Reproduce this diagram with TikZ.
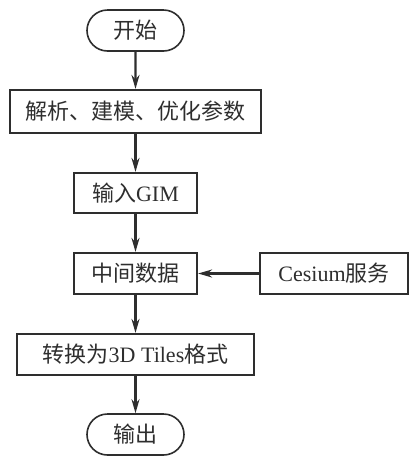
\documentclass[tikz,border=0pt]{standalone}
\usepackage{fontspec}
\setmainfont{Liberation Serif}
\newfontfamily\cjk{Noto Sans CJK SC}
\usetikzlibrary{arrows.meta,shapes.misc}
\definecolor{ink}{HTML}{2E2E2E}
\tikzset{
  box/.style={draw=ink, line width=2.2pt, rectangle, inner sep=0pt, text=ink, font=\fontsize{22}{26}\selectfont},
  term/.style={draw=ink, line width=1.6pt, rounded rectangle, inner sep=0pt, text=ink, minimum width=97pt, minimum height=41pt, font=\fontsize{22}{26}\selectfont},
  flow/.style={draw=ink, line width=2.2pt, -{Stealth[length=14pt,width=8pt]}}
}
\begin{document}
\begin{tikzpicture}[x=1pt,y=1pt]
\useasboundingbox (0,0) rectangle (414,-459);
\node[term] (start) at (135.5,-30.5) {\cjk 开始};
\node[box, minimum width=251pt, minimum height=43pt] (b1) at (135.5,-111.5) {\cjk 解析、建模、优化参数};
\node[box, minimum width=123pt, minimum height=40pt] (b2) at (135.5,-193) {{\cjk 输入}GIM};
\node[box, minimum width=123pt, minimum height=41pt] (b3) at (135.5,-273.5) {\cjk 中间数据};
\node[box, minimum width=148pt, minimum height=41pt] (cs) at (334,-273.5) {Cesium{\cjk 服务}};
\node[box, minimum width=237pt, minimum height=41pt] (b4) at (135.5,-354.5) {{\cjk 转换为}3D Tiles{\cjk 格式}};
\node[term] (end) at (135.5,-434.5) {\cjk 输出};
\draw[flow] (start) -- (b1);
\draw[flow] (b1) -- (b2);
\draw[flow] (b2) -- (b3);
\draw[flow] (cs) -- (b3);
\draw[flow] (b3) -- (b4);
\draw[flow] (b4) -- (end);
\end{tikzpicture}
\end{document}
